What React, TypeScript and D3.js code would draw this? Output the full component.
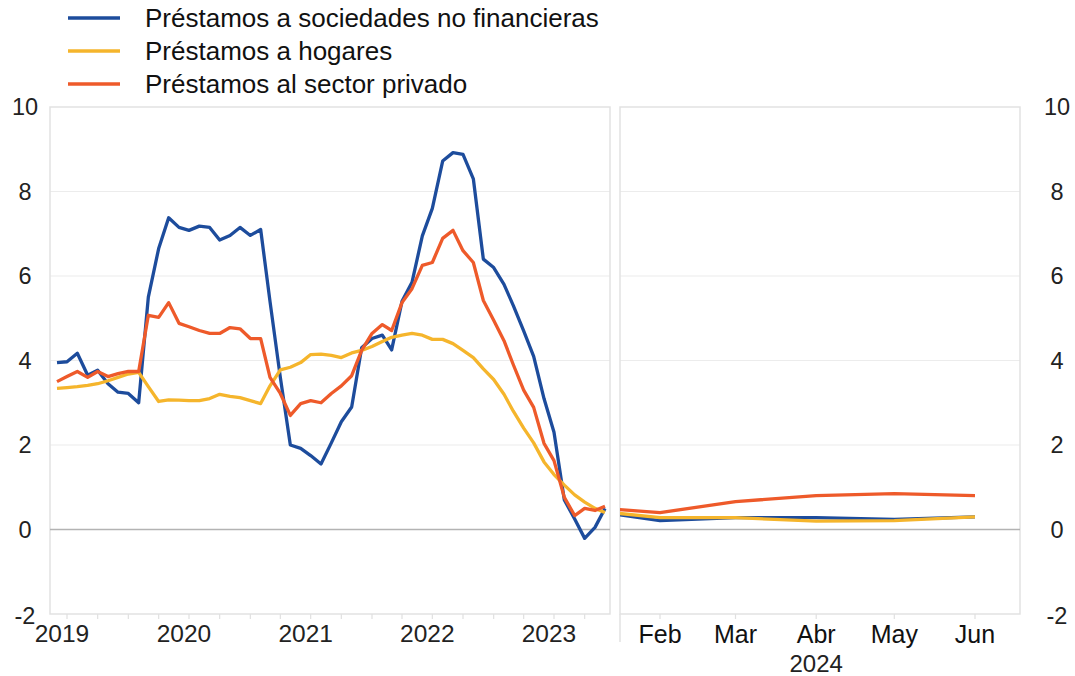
import * as d3 from 'd3';
import { useEffect, useRef } from 'react';

// monthly growth rates, Jun 2019 - Dec 2023 (left panel)
const monthsLeft = d3.timeMonth.range(new Date(2019, 5, 1), new Date(2024, 0, 1));
const nfcLeft = [3.95, 3.97, 4.17, 3.65, 3.77, 3.45, 3.25, 3.22, 3.0, 5.5, 6.65, 7.38, 7.15, 7.08, 7.18, 7.15, 6.85, 6.96, 7.15, 6.96, 7.1, 5.4, 3.6, 2.0, 1.92, 1.75, 1.55, 2.05, 2.55, 2.9, 4.3, 4.52, 4.6, 4.25, 5.4, 5.85, 6.95, 7.6, 8.72, 8.92, 8.88, 8.3, 6.4, 6.2, 5.8, 5.3, 4.7, 4.1, 3.1, 2.3, 0.7, 0.25, -0.21, 0.05, 0.5];
const hhLeft = [3.34, 3.36, 3.38, 3.41, 3.45, 3.52, 3.6, 3.68, 3.72, 3.38, 3.03, 3.07, 3.06, 3.05, 3.05, 3.1, 3.2, 3.15, 3.12, 3.05, 2.98, 3.4, 3.78, 3.84, 3.95, 4.14, 4.15, 4.12, 4.07, 4.18, 4.24, 4.33, 4.45, 4.55, 4.6, 4.64, 4.6, 4.5, 4.5, 4.4, 4.24, 4.07, 3.8, 3.55, 3.2, 2.8, 2.4, 2.05, 1.6, 1.3, 1.05, 0.82, 0.65, 0.5, 0.4];
const privLeft = [3.5, 3.62, 3.74, 3.6, 3.74, 3.62, 3.69, 3.74, 3.74, 5.07, 5.02, 5.37, 4.88, 4.8, 4.71, 4.64, 4.64, 4.78, 4.75, 4.52, 4.52, 3.6, 3.22, 2.7, 2.98, 3.05, 3.0, 3.22, 3.4, 3.64, 4.24, 4.64, 4.85, 4.71, 5.37, 5.7, 6.25, 6.32, 6.89, 7.08, 6.6, 6.32, 5.42, 4.95, 4.47, 3.9, 3.3, 2.89, 2.04, 1.63, 0.76, 0.33, 0.5, 0.45, 0.55];
const yearLabels = ['2019', '2020', '2021', '2022', '2023'];

// Jan - Jun 2024 (right panel)
const monthsRight = d3.timeMonth.range(new Date(2024, 0, 1), new Date(2024, 6, 1));
const monthLabels = ['Feb', 'Mar', 'Abr', 'May', 'Jun'];
const nfcRight = [0.49, 0.21, 0.28, 0.28, 0.24, 0.3];
const hhRight = [0.48, 0.28, 0.28, 0.2, 0.21, 0.3];
const privRight = [0.54, 0.4, 0.66, 0.8, 0.85, 0.8];

const yTicks = [-2, 0, 2, 4, 6, 8, 10];

const series = [
  { name: 'Préstamos a sociedades no financieras', color: '#1d4c9c', left: nfcLeft, right: nfcRight },
  { name: 'Préstamos a hogares', color: '#f5b52c', left: hhLeft, right: hhRight },
  { name: 'Préstamos al sector privado', color: '#ee5a2a', left: privLeft, right: privRight },
];

const W = 1075;
const H = 676;
const FONT = '"Liberation Sans", Arial, Helvetica, sans-serif';

export default function App() {
  const svgRef = useRef<SVGSVGElement>(null);

  useEffect(() => {
    if (!svgRef.current) return;
    const svg = d3.select(svgRef.current);
    svg.selectAll('*').remove();

    const top = 107;
    const bottom = 614;
    const leftPanel = { x0: 50, x1: 610 };
    const rightPanel = { x0: 620, x1: 1020 };

    const y = d3.scaleLinear().domain([-2, 10]).range([bottom, top]);
    const xL = d3.scaleTime()
      .domain([monthsLeft[0], monthsLeft[monthsLeft.length - 1]])
      .range([57, 605]);
    const xR = d3.scaleTime()
      .domain([monthsRight[1], monthsRight[5]])
      .range([660, 975]);

    const defs = svg.append('defs');
    defs.append('clipPath').attr('id', 'clipR')
      .append('rect')
      .attr('x', rightPanel.x0).attr('y', top)
      .attr('width', rightPanel.x1 - rightPanel.x0).attr('height', bottom - top);

    // panels
    [leftPanel, rightPanel].forEach((p) => {
      const g = svg.append('g');
      g.selectAll('line.grid')
        .data(yTicks.filter((t) => t !== 0 && t !== -2 && t !== 10))
        .enter()
        .append('line')
        .attr('x1', p.x0).attr('x2', p.x1)
        .attr('y1', (d) => y(d)).attr('y2', (d) => y(d))
        .attr('stroke', '#ececec').attr('stroke-width', 1.2);
      g.append('rect')
        .attr('x', p.x0).attr('y', top)
        .attr('width', p.x1 - p.x0).attr('height', bottom - top)
        .attr('fill', 'none').attr('stroke', '#e2e2e2').attr('stroke-width', 1.5);
      g.append('line')
        .attr('x1', p.x0).attr('x2', p.x1)
        .attr('y1', y(0)).attr('y2', y(0))
        .attr('stroke', '#b3b3b3').attr('stroke-width', 1.5);
    });

    // small ticks under the panels
    svg.append('g').selectAll('line')
      .data(d3.timeMonth.every(3)!.range(new Date(2019, 6, 1), new Date(2024, 0, 1)))
      .enter()
      .append('line')
      .attr('x1', (d) => xL(d)).attr('x2', (d) => xL(d))
      .attr('y1', bottom).attr('y2', bottom + 5)
      .attr('stroke', '#e0e0e0').attr('stroke-width', 1.2);
    svg.append('g').selectAll('line')
      .data(monthsRight.slice(1))
      .enter()
      .append('line')
      .attr('x1', (d) => xR(d)).attr('x2', (d) => xR(d))
      .attr('y1', bottom).attr('y2', bottom + 5)
      .attr('stroke', '#e0e0e0').attr('stroke-width', 1.2);
    svg.append('line')
      .attr('x1', rightPanel.x0).attr('x2', rightPanel.x0)
      .attr('y1', bottom).attr('y2', bottom + 28)
      .attr('stroke', '#e2e2e2').attr('stroke-width', 1.5);

    // lines
    const lineL = d3.line<number>()
      .x((_, i) => xL(monthsLeft[i]))
      .y((d) => y(d));
    const lineR = d3.line<number>()
      .x((_, i) => xR(monthsRight[i]))
      .y((d) => y(d));

    series.forEach((s) => {
      svg.append('path')
        .attr('d', lineL(s.left))
        .attr('fill', 'none')
        .attr('stroke', s.color)
        .attr('stroke-width', 3.3)
        .attr('stroke-linejoin', 'round');
      svg.append('path')
        .attr('d', lineR(s.right))
        .attr('clip-path', 'url(#clipR)')
        .attr('fill', 'none')
        .attr('stroke', s.color)
        .attr('stroke-width', 3.3)
        .attr('stroke-linejoin', 'round');
    });

    // y axis labels on both sides
    const tickText = (x: number) =>
      svg.append('g').selectAll('text')
        .data(yTicks)
        .enter()
        .append('text')
        .attr('x', x)
        .attr('y', (d) => y(d) + (d === -2 ? 2 : 0))
        .attr('dy', '0.36em')
        .attr('text-anchor', 'middle')
        .attr('font-family', FONT)
        .attr('font-size', 23.5)
        .attr('fill', '#222')
        .text((d) => String(d));
    tickText(25);
    tickText(1057);

    // x labels
    svg.append('g').selectAll('text')
      .data(yearLabels)
      .enter()
      .append('text')
      .attr('x', (d) => xL(new Date(+d, 5, 16)))
      .attr('y', 642)
      .attr('text-anchor', 'middle')
      .attr('font-family', FONT)
      .attr('font-size', 24.5)
      .attr('fill', '#222')
      .text((d) => d);
    svg.append('g').selectAll('text')
      .data(monthLabels)
      .enter()
      .append('text')
      .attr('x', (_, i) => xR(monthsRight[i + 1]))
      .attr('y', 643)
      .attr('text-anchor', 'middle')
      .attr('font-family', FONT)
      .attr('font-size', 25)
      .attr('fill', '#111')
      .text((d) => d);
    svg.append('text')
      .attr('x', xR(monthsRight[3]))
      .attr('y', 672)
      .attr('text-anchor', 'middle')
      .attr('font-family', FONT)
      .attr('font-size', 24)
      .attr('fill', '#222')
      .text('2024');

    // legend
    const leg = svg.append('g').selectAll('g')
      .data(series)
      .enter()
      .append('g')
      .attr('transform', (_, i) => `translate(0, ${18 + i * 33})`);
    leg.append('line')
      .attr('x1', 68).attr('x2', 120)
      .attr('y1', 0).attr('y2', 0)
      .attr('stroke', (d) => d.color)
      .attr('stroke-width', 3.5);
    leg.append('text')
      .attr('x', 145)
      .attr('y', 9)
      .attr('font-family', FONT)
      .attr('font-size', 26)
      .attr('fill', '#111')
      .text((d) => d.name);
  }, []);

  return (
    <svg
      ref={svgRef}
      width={W}
      height={H}
      style={{ position: 'absolute', left: 0, top: 0, background: '#fff' }}
    />
  );
}
